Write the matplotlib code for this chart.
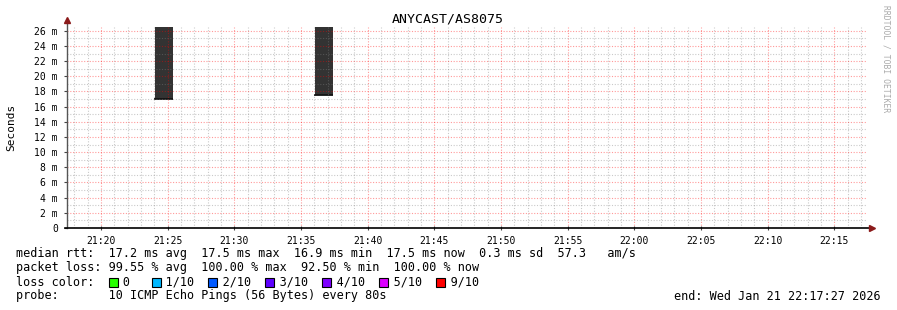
import matplotlib.pyplot as plt
from matplotlib.patches import Rectangle
from matplotlib.ticker import MultipleLocator, FuncFormatter

plt.rcParams['font.family'] = 'DejaVu Sans Mono'

# time window of the graph (HH:MM:SS) and probe step
start_time = "21:17:27"
end_time = "22:17:27"
step_sec = 80

# smoke columns: start of each 80 s slot, median rtt (ms) and top of smoke (ms)
slot_start = ["21:24:03", "21:36:03"]
median_ms = [17.0, 17.5]
smoke_top_ms = [27.0, 27.0]

loss_labels = ["0", "1/10", "2/10", "3/10", "4/10", "5/10", "9/10"]
loss_colors = ["#26ff00", "#00b8ff", "#0059ff", "#5e00ff", "#7e00ff", "#dd00ff", "#ff0000"]

stats_line = "median rtt:  17.2 ms avg  17.5 ms max  16.9 ms min  17.5 ms now  0.3 ms sd  57.3   am/s"
loss_line = "packet loss: 99.55 % avg  100.00 % max  92.50 % min  100.00 % now"
probe_line = "probe:       10 ICMP Echo Pings (56 Bytes) every 80s"
end_line = "end: Wed Jan 21 22:17:27 2026"


def toMin(s):
    h, m, sec = s.split(':')
    return int(h) * 60 + int(m) + int(sec) / 60.0


W, H = 897, 310
fig = plt.figure(figsize=(W / 100, H / 100), dpi=100)
fig.patch.set_facecolor('white')

left, right, top, bottom = 67, 867, 27, 228
ax = fig.add_axes([left / W, 1 - bottom / H, (right - left) / W, (bottom - top) / H])
ax.set_facecolor('white')

x0 = toMin(start_time)
x1 = toMin(end_time)
ax.set_xlim(x0, x1)
ax.set_ylim(0, 26.5)

w = step_sec / 60.0
xs = [toMin(s) for s in slot_start]
ax.bar(xs, [t - m for t, m in zip(smoke_top_ms, median_ms)], bottom=median_ms,
       width=w, align='edge', color='#333333', linewidth=0, zorder=1)
for x, m in zip(xs, median_ms):
    ax.hlines(m, x - 0.05, x + w, color='#111111', linewidth=1.3, zorder=2)

ax.xaxis.set_major_locator(MultipleLocator(5))
ax.xaxis.set_minor_locator(MultipleLocator(1))
ax.yaxis.set_major_locator(MultipleLocator(2))
ax.yaxis.set_minor_locator(MultipleLocator(1))
ax.xaxis.set_major_formatter(FuncFormatter(lambda v, p: "%02d:%02d" % (int(round(v)) // 60, int(round(v)) % 60)))
ax.yaxis.set_major_formatter(FuncFormatter(lambda v, p: "0" if v == 0 else "%d m" % v))

# rrdtool draws the grid over the graph with translucent colours
ax.set_axisbelow(False)
ax.grid(which='minor', color=(0.5, 0.5, 0.5), alpha=0.42, linestyle=(0, (1, 1.5)), linewidth=0.8, zorder=3)
ax.grid(which='major', color=(1.0, 0.0, 0.0), alpha=0.4, linestyle=(0, (1, 1.5)), linewidth=0.8, zorder=3)

ax.tick_params(which='major', labelsize=7, length=2.5, width=0.8, color='#444444', pad=4)
ax.tick_params(which='minor', length=0)
ax.tick_params(axis='x', direction='inout', length=3)

for s in ax.spines.values():
    s.set_visible(False)
ax.plot([0, 0], [0, 1.03], transform=ax.transAxes, color='#555555', lw=1, clip_on=False, zorder=5)
ax.plot([-0.003, 1.004], [0, 0], transform=ax.transAxes, color='black', lw=1.2, clip_on=False, zorder=5)
ax.plot([0], [1.035], transform=ax.transAxes, marker='^', color='#8b1a1a', ms=4, clip_on=False, zorder=6)
ax.plot([1.006], [0], transform=ax.transAxes, marker='>', color='#8b1a1a', ms=4, clip_on=False, zorder=6)

fig.text(448 / W, 1 - 19 / H, "ANYCAST/AS8075", ha='center', va='center', fontsize=9.5)
fig.text(11 / W, 1 - 127 / H, "Seconds", rotation=90, ha='center', va='center', fontsize=8)
fig.text(886 / W, 1 - 5 / H, "RRDTOOL / TOBI OETIKER", rotation=270, ha='center', va='top',
         fontsize=5.8, color='#aaaaaa')

fs = 8.5
cw = 0.602 * fs / 72 * 100
tx = 16
fig.text(tx / W, 1 - 254 / H, stats_line, va='center', fontsize=fs)
fig.text(tx / W, 1 - 268 / H, loss_line, va='center', fontsize=fs)

# loss color legend: square then label, columns like rrdtool's monospaced layout
row = "loss color:  "
cols = []
for lab in loss_labels:
    cols.append(len(row))
    row += "  " + lab + ("   " if lab == "0" else "  ")
fig.text(tx / W, 1 - 282 / H, row, va='center', fontsize=fs)
for c, col in zip(cols, loss_colors):
    sx = tx + c * cw + 0.5
    fig.patches.append(Rectangle((sx / W, 1 - 286.5 / H), 9 / W, 9 / H, transform=fig.transFigure,
                                 facecolor=col, edgecolor='black', linewidth=0.8))

fig.text(tx / W, 1 - 296 / H, probe_line, va='center', fontsize=fs)
fig.text(881 / W, 1 - 296 / H, end_line, va='center', ha='right', fontsize=fs)

fig.savefig('out.png', dpi=100)
